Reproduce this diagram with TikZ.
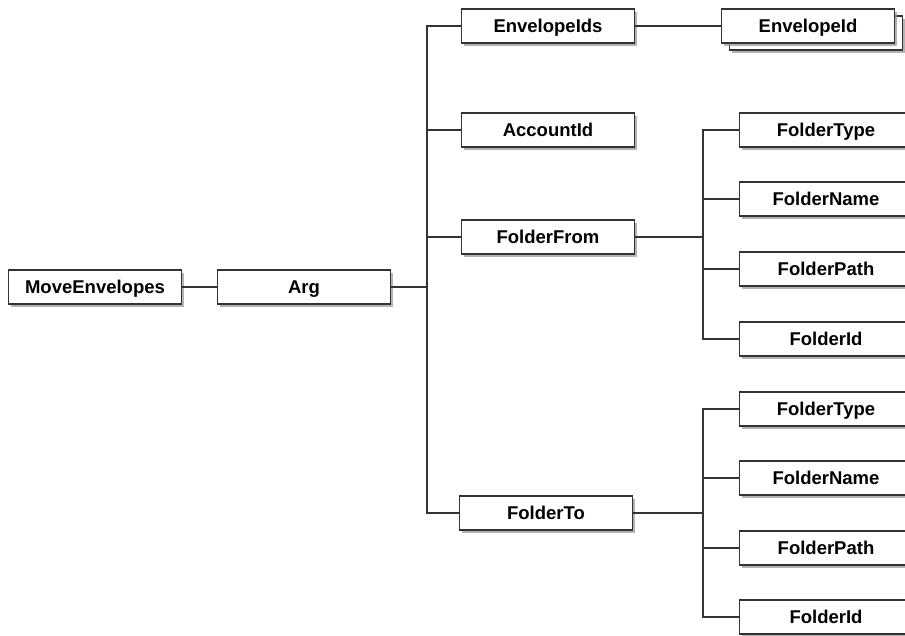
\documentclass[tikz,border=0pt]{standalone}
\usepackage{fontspec}
\setmainfont{Liberation Sans}
\usetikzlibrary{shadows}
\begin{document}
\begin{tikzpicture}[x=1pt,y=-1pt,
  boxbase/.style={draw=black!80, line width=1.4pt, fill=white,
    minimum width=173pt, minimum height=34pt, inner sep=0pt,
    drop shadow={shadow xshift=2.5pt, shadow yshift=-3pt, fill=black!40, opacity=0.75}},
  box/.style={boxbase, font=\bfseries\fontsize{18.5}{20}\selectfont,
    text height=13.3pt, text depth=0pt},
  link/.style={draw=black!80, line width=1.4pt}]
\useasboundingbox (0,0) rectangle (905,636);
\clip (0,0) rectangle (905,636);

% root and argument
\node[box] (mv)  at (95,287)  {MoveEnvelopes};
\node[box] (arg) at (304,287) {Arg};

% second level
\node[box] (eids) at (548,26)  {EnvelopeIds};
\node[boxbase]    at (816,33)  {};
\node[box] (eid)  at (808,26)  {EnvelopeId};
\node[box] (acc)  at (548,130) {AccountId};
\node[box] (from) at (548,237) {FolderFrom};
\node[box] (to)   at (546,513) {FolderTo};

% children of FolderFrom
\node[box] (ft1) at (826,130) {FolderType};
\node[box] (fn1) at (826,199) {FolderName};
\node[box] (fp1) at (826,269) {FolderPath};
\node[box] (fi1) at (826,339) {FolderId};

% children of FolderTo
\node[box] (ft2) at (826,409) {FolderType};
\node[box] (fn2) at (826,478) {FolderName};
\node[box] (fp2) at (826,548) {FolderPath};
\node[box] (fi2) at (826,617) {FolderId};

% trunk junctions
\coordinate (j0) at (427,287);
\coordinate (j1) at (703,237);
\coordinate (j2) at (703,513);

\draw[link] (mv) -- (arg);
\draw[link] (arg) -- (j0);
\draw[link] (eids.west) -| (j0) |- (to.west);
\draw[link] (acc.west) -| (j0);
\draw[link] (from.west) -| (j0);
\draw[link] (eids) -- (eid);

\draw[link] (from) -- (j1);
\draw[link] (ft1.west) -| (j1) |- (fi1.west);
\draw[link] (fn1.west) -| (j1);
\draw[link] (fp1.west) -| (j1);

\draw[link] (to) -- (j2);
\draw[link] (ft2.west) -| (j2) |- (fi2.west);
\draw[link] (fn2.west) -| (j2);
\draw[link] (fp2.west) -| (j2);
\end{tikzpicture}
\end{document}
